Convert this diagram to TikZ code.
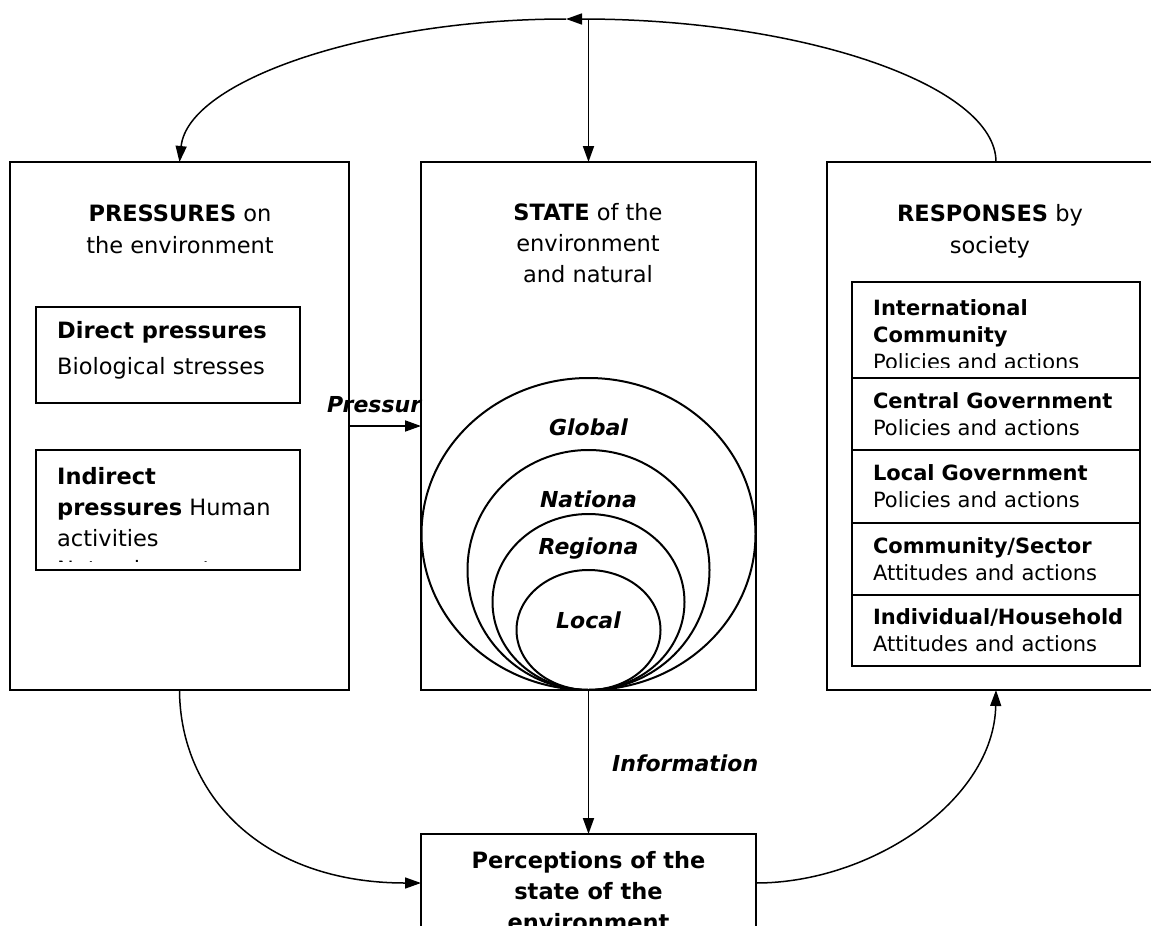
\documentclass[tikz,border=0pt]{standalone}
\usepackage{fontspec}
\setmainfont{DejaVu Sans}
\usetikzlibrary{arrows.meta,positioning}

\begin{document}
\begin{tikzpicture}[x=1pt,y=-1pt,
  >={Triangle[length=16pt,width=11pt]},
  panel/.style={draw,line width=2pt,inner sep=0pt,outer sep=0pt},
  cell/.style={draw,line width=2pt,outer sep=0pt,minimum width=288pt,text width=246pt,inner xsep=21pt,align=left,font=\fontsize{21}{27}\selectfont},
  celltext/.style={font=\fontsize{21}{27}\selectfont,inner sep=0pt,align=left},
  big/.style={font=\fontsize{22.5}{#1}\selectfont,inner sep=0pt},
  tag/.style={font=\fontsize{22}{26}\selectfont\bfseries\itshape,inner sep=0pt},
  link/.style={->,line width=1.8pt},
  loopline/.style={->,line width=1.5pt}]
  \useasboundingbox (0,0) rectangle (1151,926);
  \clip (0,0) rectangle (1151,926);

  \node[panel,minimum width=339pt,minimum height=528pt] (pres) at (179.5,426) {};
  \node[panel,minimum width=335pt,minimum height=528pt] (state) at (588.5,426) {};
  \node[panel,minimum width=338pt,minimum height=528pt] (resp) at (996,426) {};
  \node[panel,minimum width=335pt,minimum height=98pt] (perc) at (588.5,883) {};

  \node[big=32,anchor=north,align=center] (prestitle) at (180,204.5) {\textbf{PRESSURES} on\\the environment};
  \node[big=31,anchor=north,align=center] (statetitle) at (588,203) {\textbf{STATE} of the\\environment\\and natural};
  \node[big=32,anchor=north,align=center] (resptitle) at (990,204) {\textbf{RESPONSES} by\\society};

  \node[panel,minimum width=264pt,minimum height=96pt] (direct) at (168,355) {};
  \node[big=36,anchor=north west,align=left] (directtext) at (57,321) {\textbf{Direct pressures}\\Biological stresses};
  \node[panel,minimum width=264pt,minimum height=120pt] (indirect) at (168,510) {};
  \begin{scope}
    \clip (38,452) rectangle (298,561);
    \node[big=31,anchor=north west,align=left] (indirecttext) at (57,467) {\textbf{Indirect}\\\textbf{pressures} Human\\activities\\Natural events};
  \end{scope}

  \node[cell,minimum height=96pt] (intl) at (996,330) {};
  \begin{scope}
    \clip (854,284) rectangle (1138,367);
    \node[celltext,anchor=north west] (intltext) at (873,299) {\textbf{International}\\\textbf{Community}\\Policies and actions};
  \end{scope}
  \node[cell,minimum height=72pt,below=0pt of intl] (central) {\textbf{Central Government}\\Policies and actions};
  \node[cell,minimum height=73pt,below=0pt of central] (localgov) {\textbf{Local Government}\\Policies and actions};
  \node[cell,minimum height=72pt,below=0pt of localgov] (sector) {\textbf{Community/Sector}\\Attitudes and actions};
  \node[cell,minimum height=71pt,below=0pt of sector] (household) {\textbf{Individual/Household}\\Attitudes and actions};

  \draw[line width=2pt] (588.5,534) ellipse [x radius=167,y radius=156];
  \draw[line width=2pt] (588.5,570) ellipse [x radius=121,y radius=120];
  \draw[line width=2pt] (588.5,602) ellipse [x radius=96,y radius=88];
  \draw[line width=2pt] (588.5,630) ellipse [x radius=72,y radius=60];
  \node[tag,anchor=base] (global) at (588.5,435) {Global};
  \node[tag,anchor=base] (national) at (588.5,507) {Nationa};
  \node[tag,anchor=base] (regional) at (588.5,554) {Regiona};
  \node[tag,anchor=base] (local) at (588.5,628) {Local};

  \node[tag,anchor=base west] (plabel) at (327,412) {Pressur};
  \node[tag,anchor=base west] (info) at (612,771) {Information};
  \node[big=31,anchor=north,align=center] (perctext) at (588.5,851) {\textbf{Perceptions of the}\\\textbf{state of the}\\\textbf{environment}};

  \coordinate (apex) at (566,19);
  \coordinate (hub) at (588.5,19);
  \draw[link] (hub) -- (state.north);
  \draw[loopline] (resp.north) .. controls (996,85) and (802,19) .. (apex);
  \draw[loopline] (apex) .. controls (370,19) and (188,80) .. (pres.north);
  \draw[link] (pres.east) -- (state.west);
  \draw[link] (state.south) -- (perc.north);
  \draw[loopline] (pres.south) .. controls (180,795) and (262,883) .. (perc.west);
  \draw[loopline] (perc.east) .. controls (872,883) and (994,800) .. (resp.south);
\end{tikzpicture}
\end{document}
